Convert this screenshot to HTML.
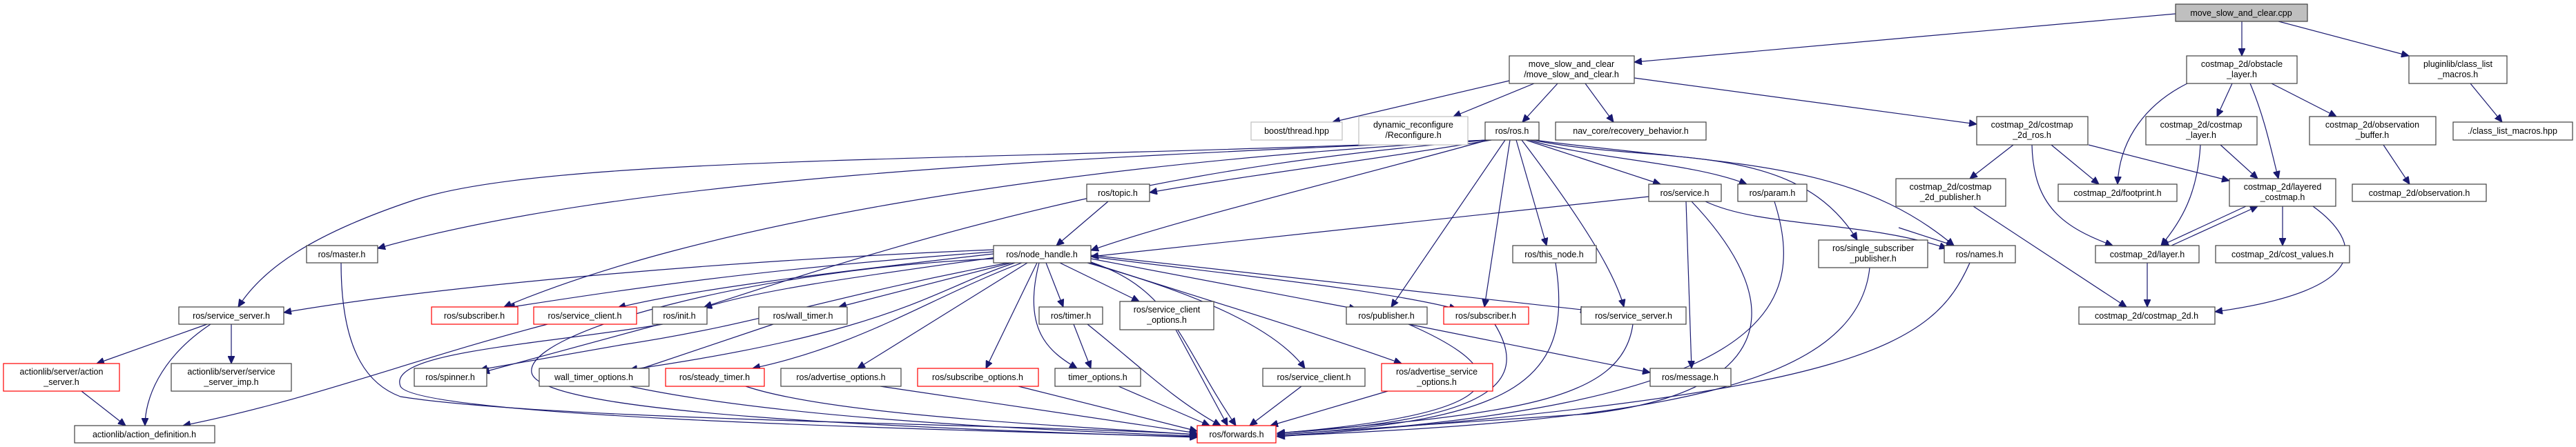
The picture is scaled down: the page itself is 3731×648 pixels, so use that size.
<!DOCTYPE html>
<html><head><meta charset="utf-8"><style>
html,body{margin:0;padding:0;background:#fff;}
svg{display:block;}
text{font-family:"Liberation Sans",sans-serif;font-size:12.5px;fill:#000;text-anchor:middle;}
.e{fill:none;stroke:#191970;stroke-width:1.2;}
.n{fill:#fff;stroke:#404040;stroke-width:1.2;}
.r{fill:#fff;stroke:#ff0000;stroke-width:1.2;}
.g{fill:#fff;stroke:#bfbfbf;stroke-width:1.2;}
</style></head><body>
<svg width="3731" height="648" viewBox="0 0 3731 648" xmlns="http://www.w3.org/2000/svg">
<defs><marker id="a" markerUnits="userSpaceOnUse" markerWidth="12" markerHeight="10" refX="11" refY="5" orient="auto"><path d="M0,0 L11,5 L0,10 z" fill="#191970" stroke="#191970"/></marker></defs>
<g class="e" marker-end="url(#a)">
<!-- root -->
<path d="M3151,20 L2367,90"/>
<path d="M3247,31 L3247,81"/>
<path d="M3300,31 L3489,81"/>
<!-- msc.h -->
<path d="M2186,117 L1930,177"/>
<path d="M2222,121 L2105,169"/>
<path d="M2256,121 L2205,177"/>
<path d="M2296,121 L2337,177"/>
<path d="M2367,113 L2863,180"/>
<!-- obstacle -->
<path d="M3168,121 C3110,150 3070,200 3067,267"/>
<path d="M3233,121 L3211,169"/>
<path d="M3259,121 C3280,170 3290,220 3300,259"/>
<path d="M3290,121 L3384,169"/>
<path d="M3578,121 L3624,177"/>
<!-- costmap_2d_ros -->
<path d="M2916,210 L2853,259"/>
<path d="M2971,210 L3040,267"/>
<path d="M3025,210 L3229,262"/>
<path d="M2943,210 C2945,300 2990,330 3060,356"/>
<path d="M3216,210 L3270,259"/>
<path d="M3187,210 C3183,280 3160,320 3130,356"/>
<path d="M3452,210 L3490,267"/>
<path d="M3253,299 L3130,356"/>
<path d="M3145,356 L3270,299"/>
<path d="M3306,299 L3306,356"/>
<path d="M3350,299 C3420,350 3440,420 3208,452"/>
<path d="M3110,381 L3110,445"/>
<path d="M2858,299 L3080,445"/>
<path d="M2750,330 L2830,356"/>
<!-- ros.h -->
<path d="M2160,203 C2000,230 1800,255 1665,279"/>
<path d="M2155,203 C1950,260 1700,320 1580,363"/>
<path d="M2210,203 L2405,267"/>
<path d="M2215,203 C2300,230 2450,235 2530,267"/>
<path d="M2196,203 L2240,356"/>
<path d="M2220,203 C2400,240 2600,200 2690,348"/>
<path d="M2222,203 C2500,240 2680,230 2830,356"/>
<path d="M2180,203 L2015,445"/>
<path d="M2187,203 L2150,445"/>
<path d="M2204,203 C2300,330 2340,400 2352,445"/>
<path d="M2160,203 C1500,230 900,260 547,360"/>
<path d="M2155,203 C1400,235 800,225 600,290 C450,340 380,390 345,445"/>
<path d="M2155,203 C1500,240 1000,330 730,445"/>
<path d="M2155,203 C1700,240 1400,320 1020,445"/>
<!-- service.h etc -->
<path d="M2388,285 L1580,372"/>
<path d="M2470,292 C2550,330 2700,320 2820,360"/>
<path d="M2442,292 L2450,534"/>
<path d="M2450,292 C2600,450 2560,570 2300,600 L1850,630"/>
<path d="M2570,292 C2620,450 2560,590 1850,632"/>
<path d="M2253,381 C2280,550 2200,610 1850,630"/>
<path d="M2708,388 C2690,560 2400,610 1850,632"/>
<path d="M2853,381 C2800,500 2700,570 1850,633"/>
<path d="M2040,470 L2390,540"/>
<path d="M2040,470 C2200,540 2200,600 1850,628"/>
<path d="M2165,470 C2220,560 2150,610 1850,628"/>
<path d="M2365,470 C2350,580 2200,600 1850,628"/>
<path d="M1885,560 L1810,617"/>
<path d="M2010,567 L1840,617"/>
<!-- node_handle -->
<path d="M1605,292 L1530,356"/>
<path d="M1439,362 C1000,380 600,420 411,453"/>
<path d="M1439,365 C1100,390 900,420 735,446"/>
<path d="M1439,368 C1200,395 1000,420 895,446"/>
<path d="M1450,372 C1250,400 1100,420 1020,446"/>
<path d="M1465,381 L1215,445"/>
<path d="M1460,381 C1200,430 1100,470 900,500 L695,536"/>
<path d="M1470,381 C1350,420 1300,480 912,536"/>
<path d="M1480,381 C1350,430 1250,500 1090,534"/>
<path d="M1488,381 L1242,534"/>
<path d="M1502,381 L1428,534"/>
<path d="M1515,381 L1540,445"/>
<path d="M1505,381 C1480,480 1520,510 1560,534"/>
<path d="M1535,381 L1650,437"/>
<path d="M1580,380 C1700,420 1710,500 1790,617"/>
<path d="M1580,375 L1965,448"/>
<path d="M1580,372 C1800,400 2000,420 2110,448"/>
<path d="M1580,370 L2300,450"/>
<path d="M1575,381 C1750,430 1850,480 1890,534"/>
<path d="M1580,381 C1700,420 1900,480 2030,527"/>
<!-- left lower -->
<path d="M300,470 L140,527"/>
<path d="M335,470 L335,527"/>
<path d="M305,470 C230,520 210,580 210,617"/>
<path d="M118,567 L182,617"/>
<path d="M793,470 C600,520 450,580 265,617"/>
<path d="M494,381 C494,520 540,560 580,575 C800,610 1500,615 1734,630"/>
<path d="M956,470 L698,540"/>
<path d="M1120,470 L912,540"/>
<path d="M1555,470 L1580,534"/>
<path d="M1575,470 C1650,530 1700,580 1768,617"/>
<path d="M1703,478 L1778,617"/>
<path d="M1620,560 L1752,617"/>
<path d="M1475,560 L1734,625"/>
<path d="M1275,560 L1734,628"/>
<path d="M1080,560 C1200,600 1500,615 1734,630"/>
<path d="M912,560 C1100,600 1400,620 1734,632"/>
<path d="M960,470 C780,500 560,510 580,560 C600,600 1200,620 1734,633"/>
<path d="M1440,375 C1100,390 760,480 770,540 C780,600 1300,620 1734,634"/>
</g>
<!-- nodes -->
<g>
<rect class="n" x="3151" y="6" width="191" height="25" style="fill:#bfbfbf"/><text x="3246" y="23">move_slow_and_clear.cpp</text>
<rect class="n" x="2186" y="81" width="181" height="40"/><text x="2276" y="97">move_slow_and_clear</text><text x="2276" y="112">/move_slow_and_clear.h</text>
<rect class="n" x="3167" y="81" width="160" height="40"/><text x="3247" y="97">costmap_2d/obstacle</text><text x="3247" y="112">_layer.h</text>
<rect class="n" x="3489" y="81" width="142" height="40"/><text x="3560" y="97">pluginlib/class_list</text><text x="3560" y="112">_macros.h</text>
<rect class="g" x="1812" y="177" width="132" height="26"/><text x="1878" y="194">boost/thread.hpp</text>
<rect class="g" x="1968" y="169" width="158" height="41"/><text x="2047" y="185">dynamic_reconfigure</text><text x="2047" y="200">/Reconfigure.h</text>
<rect class="n" x="2151" y="177" width="78" height="26"/><text x="2190" y="194">ros/ros.h</text>
<rect class="n" x="2253" y="177" width="218" height="26"/><text x="2362" y="194">nav_core/recovery_behavior.h</text>
<rect class="n" x="2863" y="169" width="161" height="41"/><text x="2943" y="185">costmap_2d/costmap</text><text x="2943" y="200">_2d_ros.h</text>
<rect class="n" x="3108" y="169" width="161" height="41"/><text x="3188" y="185">costmap_2d/costmap</text><text x="3188" y="200">_layer.h</text>
<rect class="n" x="3345" y="169" width="183" height="41"/><text x="3436" y="185">costmap_2d/observation</text><text x="3436" y="200">_buffer.h</text>
<rect class="n" x="3553" y="177" width="173" height="26"/><text x="3639" y="194">./class_list_macros.hpp</text>
<rect class="n" x="1574" y="267" width="91" height="25"/><text x="1619" y="284">ros/topic.h</text>
<rect class="n" x="2388" y="267" width="105" height="25"/><text x="2440" y="284">ros/service.h</text>
<rect class="n" x="2517" y="267" width="100" height="25"/><text x="2567" y="284">ros/param.h</text>
<rect class="n" x="2746" y="259" width="159" height="40"/><text x="2825" y="275">costmap_2d/costmap</text><text x="2825" y="290">_2d_publisher.h</text>
<rect class="n" x="2981" y="267" width="172" height="25"/><text x="3067" y="284">costmap_2d/footprint.h</text>
<rect class="n" x="3229" y="259" width="154" height="40"/><text x="3306" y="275">costmap_2d/layered</text><text x="3306" y="290">_costmap.h</text>
<rect class="n" x="3407" y="267" width="194" height="25"/><text x="3504" y="284">costmap_2d/observation.h</text>
<rect class="n" x="444" y="356" width="103" height="25"/><text x="495" y="373">ros/master.h</text>
<rect class="n" x="1439" y="356" width="141" height="25"/><text x="1509" y="373">ros/node_handle.h</text>
<rect class="n" x="2191" y="356" width="121" height="25"/><text x="2251" y="373">ros/this_node.h</text>
<rect class="n" x="2634" y="348" width="158" height="40"/><text x="2713" y="364">ros/single_subscriber</text><text x="2713" y="379">_publisher.h</text>
<rect class="n" x="2816" y="356" width="103" height="25"/><text x="2867" y="373">ros/names.h</text>
<rect class="n" x="3035" y="356" width="150" height="25"/><text x="3110" y="373">costmap_2d/layer.h</text>
<rect class="n" x="3209" y="356" width="194" height="25"/><text x="3306" y="373">costmap_2d/cost_values.h</text>
<rect class="n" x="259" y="445" width="152" height="25"/><text x="335" y="462">ros/service_server.h</text>
<rect class="r" x="625" y="445" width="125" height="25"/><text x="687" y="462">ros/subscriber.h</text>
<rect class="r" x="773" y="445" width="149" height="25"/><text x="847" y="462">ros/service_client.h</text>
<rect class="n" x="945" y="445" width="79" height="25"/><text x="984" y="462">ros/init.h</text>
<rect class="n" x="1099" y="445" width="128" height="25"/><text x="1163" y="462">ros/wall_timer.h</text>
<rect class="n" x="1505" y="445" width="92" height="25"/><text x="1551" y="462">ros/timer.h</text>
<rect class="n" x="1622" y="437" width="136" height="41"/><text x="1690" y="453">ros/service_client</text><text x="1690" y="468">_options.h</text>
<rect class="n" x="1950" y="445" width="117" height="25"/><text x="2008" y="462">ros/publisher.h</text>
<rect class="r" x="2091" y="445" width="123" height="25"/><text x="2152" y="462">ros/subscriber.h</text>
<rect class="n" x="2290" y="445" width="152" height="25"/><text x="2366" y="462">ros/service_server.h</text>
<rect class="n" x="3011" y="445" width="197" height="25"/><text x="3109" y="462">costmap_2d/costmap_2d.h</text>
<rect class="r" x="5" y="527" width="168" height="40"/><text x="89" y="543">actionlib/server/action</text><text x="89" y="558">_server.h</text>
<rect class="n" x="248" y="527" width="174" height="40"/><text x="335" y="543">actionlib/server/service</text><text x="335" y="558">_server_imp.h</text>
<rect class="n" x="600" y="534" width="105" height="26"/><text x="652" y="551">ros/spinner.h</text>
<rect class="n" x="781" y="534" width="159" height="26"/><text x="860" y="551">wall_timer_options.h</text>
<rect class="r" x="964" y="534" width="143" height="26"/><text x="1035" y="551">ros/steady_timer.h</text>
<rect class="n" x="1131" y="534" width="174" height="26"/><text x="1218" y="551">ros/advertise_options.h</text>
<rect class="r" x="1329" y="534" width="175" height="26"/><text x="1416" y="551">ros/subscribe_options.h</text>
<rect class="n" x="1528" y="534" width="124" height="26"/><text x="1590" y="551">timer_options.h</text>
<rect class="n" x="1829" y="534" width="148" height="26"/><text x="1903" y="551">ros/service_client.h</text>
<rect class="r" x="2001" y="527" width="161" height="40"/><text x="2081" y="543">ros/advertise_service</text><text x="2081" y="558">_options.h</text>
<rect class="n" x="2390" y="534" width="117" height="26"/><text x="2448" y="551">ros/message.h</text>
<rect class="n" x="108" y="617" width="203" height="25"/><text x="209" y="634">actionlib/action_definition.h</text>
<rect class="r" x="1734" y="617" width="114" height="25"/><text x="1791" y="634">ros/forwards.h</text>
</g>
</svg>
</body></html>
